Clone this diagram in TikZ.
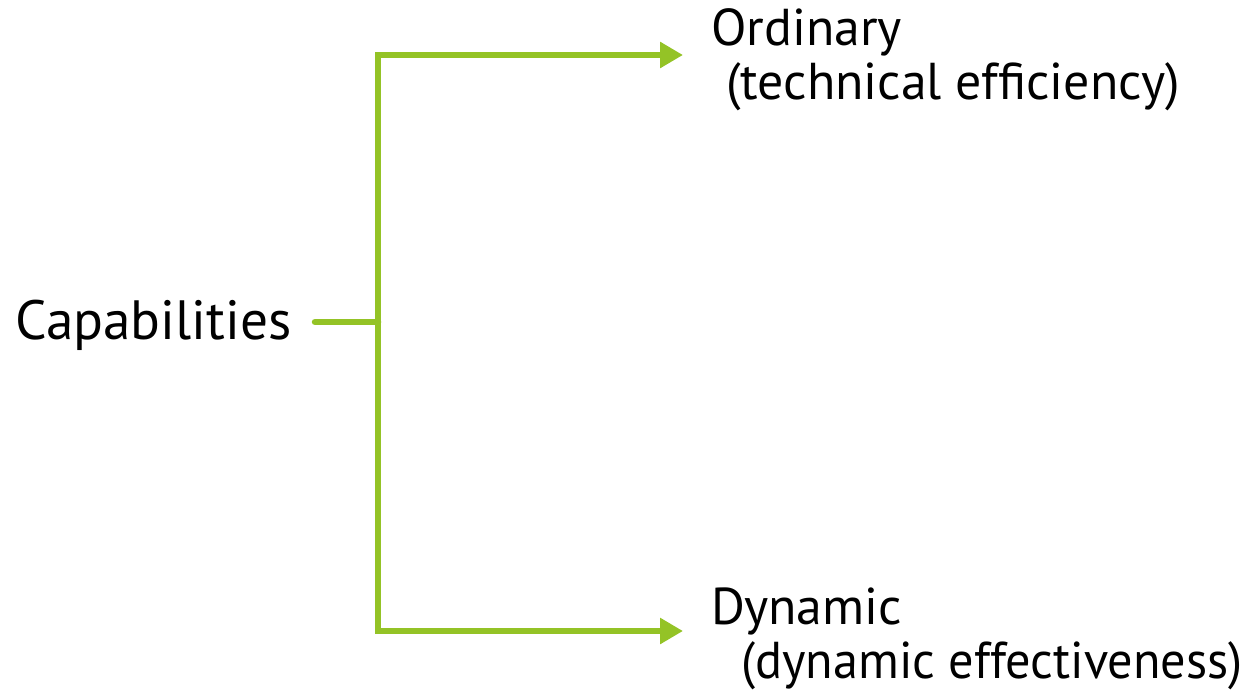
\documentclass[tikz,border=0pt]{standalone}
\usepackage{fontspec}
\setmainfont{PT Sans}
\usetikzlibrary{arrows.meta}
\definecolor{branchgreen}{RGB}{148,195,38}
\tikzset{
    label text/.style={anchor=base west, inner sep=0pt, font=\fontsize{29.5}{38}\selectfont, align=left},
    branch/.style={branchgreen, line width=0.13cm, line join=miter},
    branch arrow/.style={branch, -{Triangle[length=0.46cm, width=0.5cm]}}
}

\begin{document}
\begin{tikzpicture}[x=0.02cm, y=-0.02cm]
    \useasboundingbox (0,0) rectangle (1255,693);
    % labels
    \node[label text, font=\fontsize{31.5}{38}\selectfont] (cap) at (15,339) {Capabilities};
    \node[label text] (ord) at (711,45) {Ordinary};
    \node[label text] (ordsub) at (726,99) {(technical efficiency)};
    \node[label text] (dyn) at (711,624) {Dynamic};
    \node[label text, xscale=0.97] (dynsub) at (741,678) {(dynamic effectiveness)};
    % branch points
    \coordinate (stub) at (315,322);
    \coordinate (fork) at (378,322);
    \coordinate (ordtip) at (683,55);
    \coordinate (dyntip) at (683,631);
    % connectors
    \draw[branch, line cap=round] (stub) -- (fork);
    \draw[branch arrow] (fork) |- (ordtip);
    \draw[branch arrow] (fork) |- (dyntip);
\end{tikzpicture}
\end{document}
